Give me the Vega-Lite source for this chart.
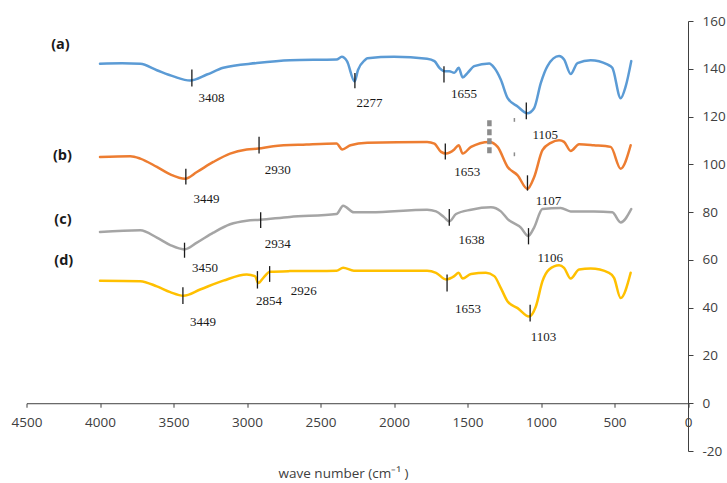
{
  "$schema": "https://vega.github.io/schema/vega-lite/v6.json",
  "width": 661.5,
  "height": 430,
  "autosize": {"type": "none"},
  "padding": {"left": 26.5, "top": 21, "right": 39, "bottom": 32},
  "background": "white",
  "config": {"view": {"stroke": null}, "font": "Open Sans"},
  "datasets": {
    "spectra": [
      {"s":"a","wn":4000,"v":142.1},{"s":"a","wn":3850,"v":142.3},{"s":"a","wn":3726,"v":142.1},{"s":"a","wn":3613,"v":139.4},{"s":"a","wn":3500,"v":136.8},{"s":"a","wn":3387,"v":135.1},{"s":"a","wn":3273,"v":137.6},{"s":"a","wn":3161,"v":140.4},{"s":"a","wn":2934,"v":142.4},{"s":"a","wn":2708,"v":143.6},{"s":"a","wn":2391,"v":143.9},{"s":"a","wn":2355,"v":145.0},{"s":"a","wn":2320,"v":143.2},{"s":"a","wn":2268,"v":134.7},{"s":"a","wn":2245,"v":139.5},{"s":"a","wn":2200,"v":143.5},{"s":"a","wn":2180,"v":144.4},{"s":"a","wn":2000,"v":145.0},{"s":"a","wn":1775,"v":144.2},{"s":"a","wn":1725,"v":143.2},{"s":"a","wn":1691,"v":140.4},{"s":"a","wn":1658,"v":139.0},{"s":"a","wn":1624,"v":139.0},{"s":"a","wn":1590,"v":138.3},{"s":"a","wn":1560,"v":140.4},{"s":"a","wn":1533,"v":136.4},{"s":"a","wn":1499,"v":138.3},{"s":"a","wn":1454,"v":141.1},{"s":"a","wn":1352,"v":142.2},{"s":"a","wn":1318,"v":140.4},{"s":"a","wn":1273,"v":135.4},{"s":"a","wn":1227,"v":127.7},{"s":"a","wn":1159,"v":124.2},{"s":"a","wn":1092,"v":121.4},{"s":"a","wn":1047,"v":123.5},{"s":"a","wn":1001,"v":134.1},{"s":"a","wn":956,"v":141.1},{"s":"a","wn":877,"v":145.3},{"s":"a","wn":843,"v":143.9},{"s":"a","wn":798,"v":137.8},{"s":"a","wn":752,"v":142.4},{"s":"a","wn":662,"v":143.6},{"s":"a","wn":549,"v":141.8},{"s":"a","wn":515,"v":140.4},{"s":"a","wn":458,"v":127.7},{"s":"a","wn":424,"v":132.6},{"s":"a","wn":386,"v":143.2},
      {"s":"b","wn":4000,"v":103.1},{"s":"b","wn":3794,"v":103.4},{"s":"b","wn":3726,"v":102.4},{"s":"b","wn":3613,"v":98.9},{"s":"b","wn":3522,"v":95.8},{"s":"b","wn":3421,"v":94.0},{"s":"b","wn":3341,"v":96.8},{"s":"b","wn":3229,"v":101.0},{"s":"b","wn":3115,"v":104.5},{"s":"b","wn":3002,"v":106.2},{"s":"b","wn":2923,"v":106.6},{"s":"b","wn":2821,"v":107.6},{"s":"b","wn":2595,"v":108.3},{"s":"b","wn":2391,"v":108.7},{"s":"b","wn":2352,"v":106.2},{"s":"b","wn":2296,"v":108.0},{"s":"b","wn":2182,"v":109.0},{"s":"b","wn":1775,"v":109.4},{"s":"b","wn":1725,"v":108.7},{"s":"b","wn":1680,"v":105.2},{"s":"b","wn":1646,"v":104.5},{"s":"b","wn":1590,"v":106.2},{"s":"b","wn":1560,"v":108.0},{"s":"b","wn":1533,"v":104.5},{"s":"b","wn":1476,"v":107.3},{"s":"b","wn":1352,"v":109.4},{"s":"b","wn":1295,"v":107.3},{"s":"b","wn":1227,"v":98.9},{"s":"b","wn":1159,"v":95.4},{"s":"b","wn":1092,"v":89.7},{"s":"b","wn":1047,"v":94.6},{"s":"b","wn":990,"v":105.9},{"s":"b","wn":933,"v":109.0},{"s":"b","wn":877,"v":110.1},{"s":"b","wn":843,"v":109.4},{"s":"b","wn":798,"v":105.6},{"s":"b","wn":741,"v":108.4},{"s":"b","wn":640,"v":108.0},{"s":"b","wn":526,"v":107.3},{"s":"b","wn":458,"v":98.2},{"s":"b","wn":390,"v":108.0},
      {"s":"c","wn":4000,"v":71.7},{"s":"c","wn":3726,"v":72.4},{"s":"c","wn":3613,"v":69.3},{"s":"c","wn":3522,"v":66.2},{"s":"c","wn":3427,"v":64.4},{"s":"c","wn":3341,"v":67.2},{"s":"c","wn":3229,"v":71.4},{"s":"c","wn":3115,"v":74.9},{"s":"c","wn":3002,"v":76.4},{"s":"c","wn":2912,"v":76.8},{"s":"c","wn":2708,"v":78.0},{"s":"c","wn":2391,"v":79.2},{"s":"c","wn":2346,"v":82.7},{"s":"c","wn":2273,"v":79.9},{"s":"c","wn":2160,"v":79.9},{"s":"c","wn":1775,"v":81.0},{"s":"c","wn":1714,"v":80.3},{"s":"c","wn":1658,"v":77.8},{"s":"c","wn":1624,"v":76.1},{"s":"c","wn":1578,"v":79.2},{"s":"c","wn":1476,"v":81.0},{"s":"c","wn":1341,"v":82.0},{"s":"c","wn":1273,"v":80.3},{"s":"c","wn":1227,"v":77.1},{"s":"c","wn":1137,"v":73.5},{"s":"c","wn":1087,"v":70.0},{"s":"c","wn":1047,"v":73.5},{"s":"c","wn":990,"v":81.3},{"s":"c","wn":866,"v":81.7},{"s":"c","wn":798,"v":80.3},{"s":"c","wn":640,"v":80.3},{"s":"c","wn":515,"v":79.9},{"s":"c","wn":458,"v":75.7},{"s":"c","wn":386,"v":81.3},
      {"s":"d","wn":4000,"v":51.3},{"s":"d","wn":3726,"v":51.1},{"s":"d","wn":3613,"v":48.9},{"s":"d","wn":3522,"v":46.5},{"s":"d","wn":3432,"v":45.0},{"s":"d","wn":3319,"v":47.6},{"s":"d","wn":3161,"v":51.3},{"s":"d","wn":3002,"v":53.9},{"s":"d","wn":2946,"v":53.2},{"s":"d","wn":2923,"v":50.3},{"s":"d","wn":2889,"v":52.5},{"s":"d","wn":2844,"v":55.0},{"s":"d","wn":2708,"v":55.3},{"s":"d","wn":2391,"v":55.5},{"s":"d","wn":2346,"v":56.7},{"s":"d","wn":2273,"v":55.5},{"s":"d","wn":1775,"v":55.5},{"s":"d","wn":1714,"v":54.6},{"s":"d","wn":1646,"v":51.8},{"s":"d","wn":1590,"v":53.2},{"s":"d","wn":1560,"v":54.6},{"s":"d","wn":1533,"v":52.2},{"s":"d","wn":1476,"v":54.1},{"s":"d","wn":1375,"v":54.6},{"s":"d","wn":1318,"v":53.2},{"s":"d","wn":1273,"v":48.2},{"s":"d","wn":1227,"v":42.6},{"s":"d","wn":1159,"v":39.8},{"s":"d","wn":1081,"v":36.3},{"s":"d","wn":1035,"v":40.5},{"s":"d","wn":990,"v":51.1},{"s":"d","wn":945,"v":56.0},{"s":"d","wn":877,"v":57.8},{"s":"d","wn":843,"v":56.7},{"s":"d","wn":798,"v":52.2},{"s":"d","wn":741,"v":56.0},{"s":"d","wn":662,"v":56.4},{"s":"d","wn":537,"v":54.6},{"s":"d","wn":503,"v":52.5},{"s":"d","wn":458,"v":44.0},{"s":"d","wn":390,"v":54.6}
    ],
    "ticks": [
      {"wn":3375,"y1":132.6,"y2":139.7},{"wn":2266,"y1":131.9,"y2":138.2},{"wn":1660,"y1":134.3,"y2":141.1},{"wn":1100,"y1":118.9,"y2":125.9},
      {"wn":3416,"y1":91.6,"y2":98.2},{"wn":2918,"y1":104.5,"y2":111.5},{"wn":1651,"y1":102.0,"y2":108.7},{"wn":1092,"y1":89.0,"y2":95.4},
      {"wn":3425,"y1":60.9,"y2":67.2},{"wn":2907,"y1":73.3,"y2":79.9},{"wn":1624,"y1":74.3,"y2":81.3},{"wn":1085,"y1":66.5,"y2":73.3},
      {"wn":3436,"y1":41.5,"y2":48.5},{"wn":2929,"y1":48.0,"y2":55.3},{"wn":2846,"y1":50.8,"y2":57.4},{"wn":1639,"y1":46.8,"y2":53.9},{"wn":1074,"y1":34.2,"y2":41.2}
    ],
    "labels": [
      {"wn":3330,"v":127.7,"t":"3408"},{"wn":2255,"v":125.7,"t":"2277"},{"wn":1612,"v":129.5,"t":"1655"},{"wn":1058,"v":112.2,"t":"1105"},
      {"wn":3364,"v":85.5,"t":"3449"},{"wn":2880,"v":97.5,"t":"2930"},{"wn":1590,"v":96.8,"t":"1653"},{"wn":1035,"v":84.5,"t":"1107"},
      {"wn":3375,"v":56.4,"t":"3450"},{"wn":2880,"v":66.8,"t":"2934"},{"wn":1561,"v":68.2,"t":"1638"},{"wn":1024,"v":60.9,"t":"1106"},
      {"wn":3387,"v":34.2,"t":"3449"},{"wn":2938,"v":42.9,"t":"2854"},{"wn":2703,"v":47.1,"t":"2926"},{"wn":1585,"v":39.5,"t":"1653"},{"wn":1069,"v":27.8,"t":"1103"}
    ],
    "names": [
      {"wn":4332,"v":149.8,"t":"(a)"},{"wn":4320,"v":103.4,"t":"(b)"},{"wn":4311,"v":76.7,"t":"(c)"},{"wn":4311,"v":59.6,"t":"(d)"}
    ],
    "artifact": [
      {"wn":1351,"y1":104.6,"y2":118.6,"w":4.5},
      {"wn":1181,"y1":117.8,"y2":119.4,"w":1.5},
      {"wn":1181,"y1":103.4,"y2":105.0,"w":1.5}
    ]
  },
  "layer": [
    {
      "data": {"name": "spectra"},
      "mark": {"type": "line", "strokeWidth": 2.5, "strokeJoin": "round", "strokeCap": "round", "interpolate": "monotone"},
      "encoding": {
        "x": {
          "field": "wn", "type": "quantitative",
          "scale": {"domain": [0, 4500], "reverse": true, "nice": false, "zero": false},
          "axis": {
            "orient": "bottom", "offset": -47.78,
            "values": [0, 500, 1000, 1500, 2000, 2500, 3000, 3500, 4000, 4500],
            "labelExpr": "toString(datum.value)",
            "grid": false, "domainColor": "#404040", "tickColor": "#404040", "tickSize": 4,
            "labelFont": "Open Sans", "labelFontSize": 13.5, "labelColor": "#404040",
            "labelBaseline": "middle", "labelPadding": 15, "labelOverlap": false, "labelFlush": false,
            "title": "wave number (cm⁻¹ )", "titleFont": "Open Sans", "titleFontSize": 13.5,
            "titleFontWeight": "normal", "titleColor": "#404040",
            "titleX": 316.5, "titleY": 70, "titleBaseline": "middle", "titleAlign": "center", "titleAnchor": "start"
          }
        },
        "y": {
          "field": "v", "type": "quantitative",
          "scale": {"domain": [-20, 160], "nice": false, "zero": false},
          "axis": {
            "orient": "right",
            "values": [-20, 0, 20, 40, 60, 80, 100, 120, 140, 160],
            "labelExpr": "toString(datum.value)",
            "grid": false, "domainColor": "#404040", "tickColor": "#404040", "tickSize": 5,
            "labelFont": "Open Sans", "labelFontSize": 13.5, "labelColor": "#404040",
            "labelPadding": 9, "labelAlign": "left", "labelBaseline": "middle", "labelOverlap": false, "labelFlush": false,
            "title": null
          }
        },
        "color": {
          "field": "s", "type": "nominal",
          "scale": {"domain": ["a", "b", "c", "d"], "range": ["#5B9BD5", "#ED7D31", "#A5A5A5", "#FFC000"]},
          "legend": null
        }
      }
    },
    {
      "data": {"name": "ticks"},
      "mark": {"type": "rule", "color": "#1a1a1a", "strokeWidth": 1.3},
      "encoding": {
        "x": {"field": "wn", "type": "quantitative"},
        "y": {"field": "y1", "type": "quantitative"},
        "y2": {"field": "y2"}
      }
    },
    {
      "data": {"name": "artifact"},
      "mark": {"type": "rule", "color": "#8c8c8c", "strokeDash": [6, 3]},
      "encoding": {
        "x": {"field": "wn", "type": "quantitative"},
        "y": {"field": "y1", "type": "quantitative"},
        "y2": {"field": "y2"},
        "strokeWidth": {"field": "w", "type": "quantitative", "scale": null}
      }
    },
    {
      "data": {"name": "labels"},
      "mark": {"type": "text", "font": "Liberation Serif", "fontSize": 13, "color": "#1a1a1a", "align": "left", "baseline": "middle"},
      "encoding": {
        "x": {"field": "wn", "type": "quantitative"},
        "y": {"field": "v", "type": "quantitative"},
        "text": {"field": "t"}
      }
    },
    {
      "data": {"name": "names"},
      "mark": {"type": "text", "font": "Open Sans", "fontSize": 14.5, "fontWeight": "bold", "color": "#1a1a1a", "align": "left", "baseline": "middle"},
      "encoding": {
        "x": {"field": "wn", "type": "quantitative"},
        "y": {"field": "v", "type": "quantitative"},
        "text": {"field": "t"}
      }
    }
  ]
}
